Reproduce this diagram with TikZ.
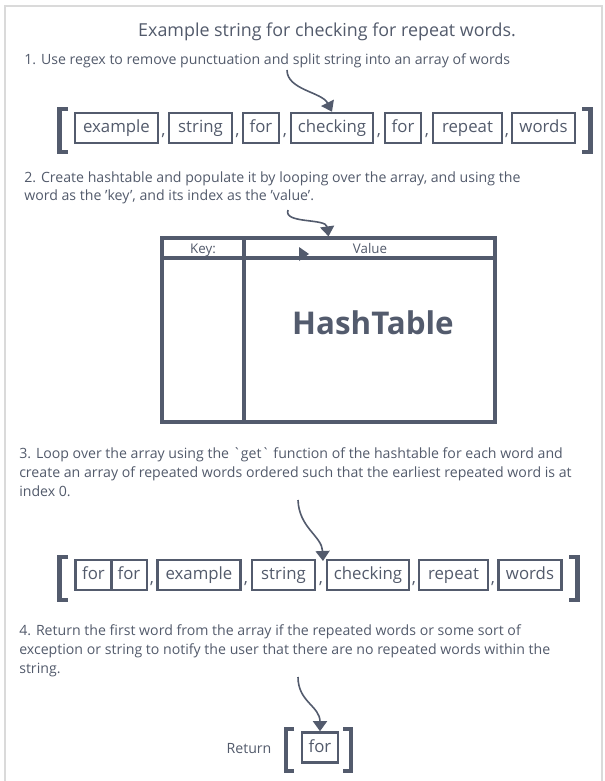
\documentclass[tikz,border=0pt]{standalone}
\usepackage{fontspec}
\setmainfont{Open Sans}
\usetikzlibrary{arrows.meta}
\definecolor{ink}{HTML}{535B6D}
\definecolor{txt}{HTML}{525A6B}
\definecolor{frame}{HTML}{DADADA}
\newcommand\stepfont{\fontsize{10.6pt}{12pt}\selectfont}
\newcommand\wordfont{\fontsize{12.6pt}{15pt}\selectfont}
\newcommand\titlefont{\fontsize{13.4pt}{15pt}\selectfont}
\newcommand\smallfont{\fontsize{10pt}{11pt}\selectfont}
\newcommand\bigfont{\fontsize{23.5pt}{28pt}\selectfont\bfseries}
\begin{document}
\begin{tikzpicture}[x=0.75pt,y=-0.75pt,
  wordbox/.style={draw=ink,line width=1.9pt,minimum height=30*0.75pt,inner sep=0pt,
    text=txt,font=\wordfont,text height=9.6pt,text depth=2.6pt},
  wb/.style={wordbox,minimum width=#1*0.75pt},
  comma/.style={text=txt,font=\wordfont,inner sep=0pt,anchor=base},
  steptext/.style={text=txt,font=\stepfont,inner sep=0pt,anchor=base west},
  bracket/.style={draw=ink,line width=3.4pt,miter limit=10},
  tline/.style={draw=ink,line width=2.4pt},
  arr/.style={draw=ink,line width=1.2pt,-{Triangle[width=10.5pt,length=7.5pt]}}]
\useasboundingbox (0,0) rectangle (604,781);
% outer frame
\draw[frame,line width=1.3pt] (5,781) -- (5,6) -- (602,6) -- (602,781);
% title
\node[text=txt,font=\titlefont,inner sep=0pt,anchor=base] (title) at (327,37) {Example string for checking for repeat words.};
% step 1
\node[steptext] (s1) at (24,65) {1. Use regex to remove punctuation and split string into an array of words};
\draw[bracket] (68,109) -- (59.5,109) -- (59.5,152) -- (68,152);
\draw[bracket] (582,109) -- (590.5,109) -- (590.5,152) -- (582,152);
\node[wb=83] (a1) at (116.5,128) {example};
\node[comma] (c11) at (163.5,136) {,};
\node[wb=63] (a2) at (200.5,128) {string};
\node[comma] (c12) at (237.5,136) {,};
\node[wb=36] (a3) at (261,128) {for};
\node[comma] (c13) at (285,136) {,};
\node[wb=82] (a4) at (332,128) {checking};
\node[comma] (c14) at (379,136) {,};
\node[wb=36] (a5) at (403,128) {for};
\node[comma] (c15) at (427,136) {,};
\node[wb=69] (a6) at (467.5,128) {repeat};
\node[comma] (c16) at (507,136) {,};
\node[wb=63] (a7) at (543.5,128) {words};
\coordinate (p1) at (287,70);
\draw[arr] (p1) .. controls (287,90) and (322,92) .. (a4.north);
% step 2
\node[steptext] (s2a) at (24,182) {2. Create hashtable and populate it by looping over the array, and using the};
\node[steptext] (s2b) at (24,200) {word as the 'key', and its index as the 'value'.};
\node[draw=ink,line width=2.4pt,minimum width=333*0.75pt,minimum height=184*0.75pt,inner sep=0pt] (tbl) at (328.5,330) {};
\draw[tline] (162,258) -- (495,258);
\draw[tline] (244,238) -- (244,422);
\node[text=txt,font=\smallfont,inner sep=0pt,anchor=base] (key) at (203,253) {Key:};
\node[text=txt,font=\smallfont,inner sep=0pt,anchor=base] (val) at (370,253) {Value};
\node[text=ink,font=\bigfont,inner sep=0pt,anchor=base] (ht) at (373,334) {HashTable};
\fill[ink] (299,247) -- (309,254) -- (299,261) -- cycle;
\coordinate (p2) at (288,210);
\draw[arr] (p2) .. controls (283,224) and (326,218) .. (tbl.north);
% step 3
\node[steptext] (s3a) at (19,458) {3. Loop over the array using the \textasciigrave get\textasciigrave\ function of the hashtable for each word and};
\node[steptext] (s3b) at (19,477) {create an array of repeated words ordered such that the earliest repeated word is at};
\node[steptext] (s3c) at (19,496) {index 0.};
\draw[bracket] (68,557) -- (59.5,557) -- (59.5,600) -- (68,600);
\draw[bracket] (569,557) -- (577.5,557) -- (577.5,600) -- (569,600);
\node[wb=36] (b1) at (93.5,575) {for};
\node[wb=36] (b2) at (129,575) {for};
\node[comma] (c31) at (152,583) {,};
\node[wb=83] (b3) at (199,575) {example};
\node[comma] (c32) at (246,583) {,};
\node[wb=63] (b4) at (283.5,575) {string};
\node[comma] (c33) at (321,583) {,};
\node[wb=82] (b5) at (368,575) {checking};
\node[comma] (c34) at (414,583) {,};
\node[wb=69] (b6) at (453.5,575) {repeat};
\node[comma] (c35) at (493,583) {,};
\node[wb=63] (b7) at (530,575) {words};
\coordinate (p3) at (298,500);
\coordinate (t3) at (323,561);
\draw[arr] (p3) .. controls (299,528) and (322,536) .. (t3);
% step 4
\node[steptext] (s4a) at (19,635) {4. Return the first word from the array if the repeated words or some sort of};
\node[steptext] (s4b) at (19,654) {exception or string to notify the user that there are no repeated words within the};
\node[steptext] (s4c) at (19,673) {string.};
\node[text=txt,font=\stepfont,inner sep=0pt,anchor=base] (ret) at (249,753) {Return};
\draw[bracket] (294,729) -- (286,729) -- (286,771) -- (294,771);
\draw[bracket] (343,729) -- (351,729) -- (351,771) -- (343,771);
\node[wb=36] (r) at (320,747.5) {for};
\coordinate (p4) at (298,677);
\draw[arr] (p4) .. controls (298,702) and (320,706) .. (r.north);
\end{tikzpicture}
\end{document}
